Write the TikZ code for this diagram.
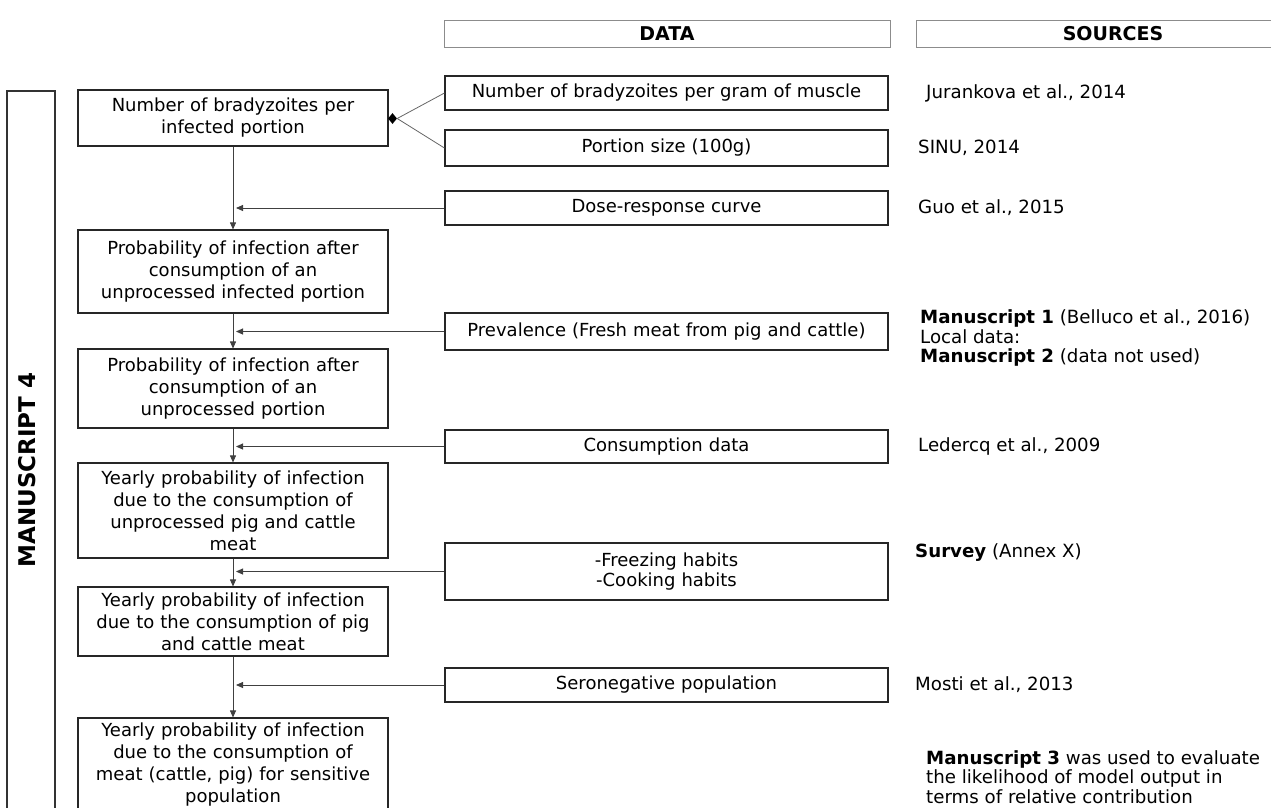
\documentclass[tikz,border=0pt]{standalone}
\usepackage{fontspec}
\setmainfont{DejaVu Sans}
\usetikzlibrary{arrows.meta,shapes.geometric}

\begin{document}
\begin{tikzpicture}[x=1pt,y=-1pt,
  every node/.style={inner sep=0pt},
  mainbox/.style={draw=black!85, line width=1.1pt, minimum width=310pt,
    text width=302pt, align=center, font=\fontsize{18}{22}\selectfont},
  databox/.style={draw=black!85, line width=1.1pt, minimum width=443pt,
    text width=430pt, align=center, font=\fontsize{18}{20}\selectfont},
  headbox/.style={draw=black!45, line width=1pt, minimum height=27pt,
    font=\bfseries\fontsize{19}{22}\selectfont},
  srctext/.style={anchor=west, align=left, font=\fontsize{18.2}{19.6}\selectfont},
  flow/.style={draw=black!75, line width=0.9pt, -{Triangle[length=7pt,width=6pt]}},
  feed/.style={draw=black!60, line width=0.8pt},
  junction/.style={diamond, fill=black, minimum width=9pt, minimum height=11pt},
]
\useasboundingbox (0,0) rectangle (1271,807);
\clip (0,0) rectangle (1271,807);

% column headers
\node[headbox, minimum width=446pt] (hdata) at (667,33.5) {DATA};
\node[headbox, minimum width=394pt] (hsrc) at (1113,33.5) {SOURCES};

% bracket for the model part
\draw[draw=black!80, line width=1.1pt] (7,815) -- (7,91) -- (55,91) -- (55,815);
\node[rotate=90, font=\bfseries\fontsize{23}{26}\selectfont] (ms4) at (27,470) {MANUSCRIPT 4};

% model chain
\node[mainbox, minimum height=56pt] (b1) at (233,118) {Number of bradyzoites per\\infected portion};
\node[mainbox, minimum height=83pt] (b2) at (233,271.5) {Probability of infection after\\consumption of an\\unprocessed infected portion};
\node[mainbox, minimum height=79pt] (b3) at (233,388.5) {Probability of infection after\\consumption of an\\unprocessed portion};
\node[mainbox, minimum height=95pt] (b4) at (233,510.5) {Yearly probability of infection\\due to the consumption of\\unprocessed pig and cattle\\meat};
\node[mainbox, minimum height=69pt] (b5) at (233,621.5) {Yearly probability of infection\\due to the consumption of pig\\and cattle meat};
\node[mainbox, minimum height=94pt] (b6) at (233,765) {Yearly probability of infection\\due to the consumption of\\meat (cattle, pig) for sensitive\\population};

% data inputs
\node[databox, minimum height=34pt] (d1) at (666.5,93) {Number of bradyzoites per gram of muscle};
\node[databox, minimum height=36pt] (d2) at (666.5,148) {Portion size (100g)};
\node[databox, minimum height=34pt] (d3) at (666.5,208) {Dose-response curve};
\node[databox, minimum height=37pt] (d4) at (666.5,331.5) {Prevalence (Fresh meat from pig and cattle)};
\node[databox, minimum height=33pt] (d5) at (666.5,446.5) {Consumption data};
\node[databox, minimum height=57pt] (d6) at (666.5,571.5) {-Freezing habits\\-Cooking habits};
\node[databox, minimum height=34pt] (d7) at (666.5,685) {Seronegative population};

% sources
\node[srctext] (s1) at (926,93) {Jurankova et al., 2014};
\node[srctext] (s2) at (918,148) {SINU, 2014};
\node[srctext] (s3) at (918,208) {Guo et al., 2015};
\node[srctext] (s4) at (920,338) {\textbf{Manuscript 1} (Belluco et al., 2016)\\Local data:\\\textbf{Manuscript 2} (data not used)};
\node[srctext] (s5) at (918,446) {Ledercq et al., 2009};
\node[srctext] (s6) at (915,553) {\textbf{Survey} (Annex X)};
\node[srctext] (s7) at (915,685) {Mosti et al., 2013};
\node[srctext] (s8) at (926,777) {\textbf{Manuscript 3} was used to evaluate\\the likelihood of model output in\\terms of relative contribution};

% combination of the first two inputs
\node[junction] (j) at (392.5,118.5) {};
\draw[feed] (d1.west) -- (j.east);
\draw[feed] (d2.west) -- (j.east);

% main flow
\draw[flow] (b1.south) -- (b2.north);
\draw[flow] (b2.south) -- (b3.north);
\draw[flow] (b3.south) -- (b4.north);
\draw[flow] (b4.south) -- (b5.north);
\draw[flow] (b5.south) -- (b6.north);

% inputs entering the flow
\draw[flow] (d3.west) -- ([xshift=3pt]b1.south |- d3.west);
\draw[flow] (d4.west) -- ([xshift=3pt]b2.south |- d4.west);
\draw[flow] (d5.west) -- ([xshift=3pt]b3.south |- d5.west);
\draw[flow] (d6.west) -- ([xshift=3pt]b4.south |- d6.west);
\draw[flow] (d7.west) -- ([xshift=3pt]b5.south |- d7.west);
\end{tikzpicture}
\end{document}
